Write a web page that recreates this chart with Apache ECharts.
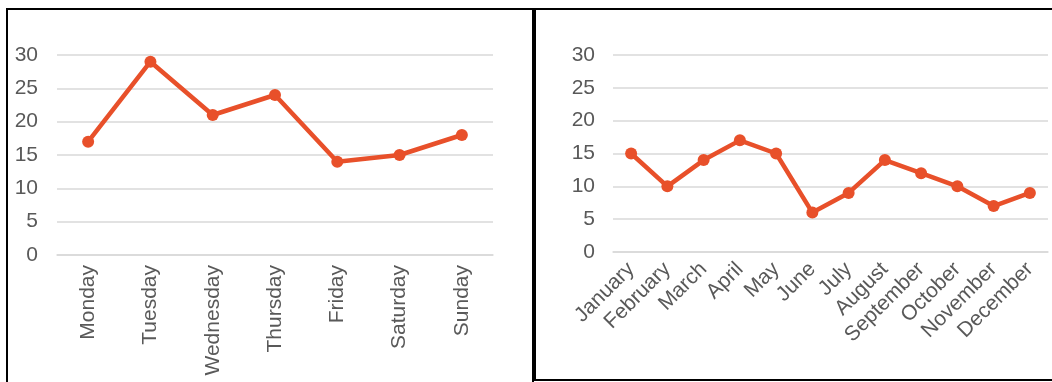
<!DOCTYPE html>
<html>
<head>
<meta charset="utf-8">
<script src="https://cdn.jsdelivr.net/npm/echarts@6/dist/echarts.min.js"></script>
<style>
  html, body { margin: 0; padding: 0; background: #fff; }
  #main { width: 1052px; height: 382px; }
</style>
</head>
<body>
<div id="main"></div>
<script>
// weekly data (left chart)
let days = ['Monday', 'Tuesday', 'Wednesday', 'Thursday', 'Friday', 'Saturday', 'Sunday'];
let dayValues = [17, 29, 21, 24, 14, 15, 18];

// monthly data (right chart)
let months = ['January', 'February', 'March', 'April', 'May', 'June', 'July',
    'August', 'September', 'October', 'November', 'December'];
let monthValues = [15, 10, 14, 17, 15, 6, 9, 14, 12, 10, 7, 9];

let lineColor = '#e8502a';
let textColor = '#595959';
let gridColor = '#d9d9d9';
let fontFamily = '"Liberation Sans", Arial, sans-serif';

function yAxisOpt(gridIndex, margin) {
    return {
        type: 'value',
        gridIndex: gridIndex,
        min: 0,
        max: 30,
        interval: 5,
        axisLine: { show: false },
        axisTick: { show: false },
        axisLabel: { color: textColor, fontSize: 21, fontFamily: fontFamily, margin: margin },
        splitLine: { lineStyle: { color: gridColor, width: 1.5 } }
    }
}

function xAxisOpt(gridIndex, data, rotate, margin) {
    return {
        type: 'category',
        gridIndex: gridIndex,
        data: data,
        boundaryGap: true,
        axisLine: { show: true, lineStyle: { color: gridColor, width: 1.5 } },
        axisTick: { show: false },
        axisLabel: {
            color: textColor, fontSize: 21, fontFamily: fontFamily,
            rotate: rotate, margin: margin, interval: 0
        }
    }
}

function lineSeries(idx, data) {
    return {
        type: 'line',
        xAxisIndex: idx,
        yAxisIndex: idx,
        data: data,
        symbol: 'circle',
        symbolSize: 12,
        lineStyle: { color: lineColor, width: 4.5 },
        itemStyle: { color: lineColor },
        animation: false
    }
}

let chart = echarts.init(document.getElementById('main'));
let option = {
    animation: false,
    grid: [
        { left: 57, right: 559, top: 55, bottom: 127 },
        { left: 613, right: 4, top: 55, bottom: 130 }
    ],
    xAxis: [xAxisOpt(0, days, 90, 10), xAxisOpt(1, months, 45, 14)],
    yAxis: [yAxisOpt(0, 19), yAxisOpt(1, 18)],
    series: [lineSeries(0, dayValues), lineSeries(1, monthValues)],
    graphic: [
        // panel borders
        { type: 'rect', shape: { x: 7, y: 9, width: 526, height: 380 },
          style: { fill: null, stroke: '#000', lineWidth: 2 }, z: 100 },
        { type: 'rect', shape: { x: 535, y: 9, width: 520, height: 371 },
          style: { fill: null, stroke: '#000', lineWidth: 2 }, z: 100 }
    ]
}
chart.setOption(option)
</script>
</body>
</html>
